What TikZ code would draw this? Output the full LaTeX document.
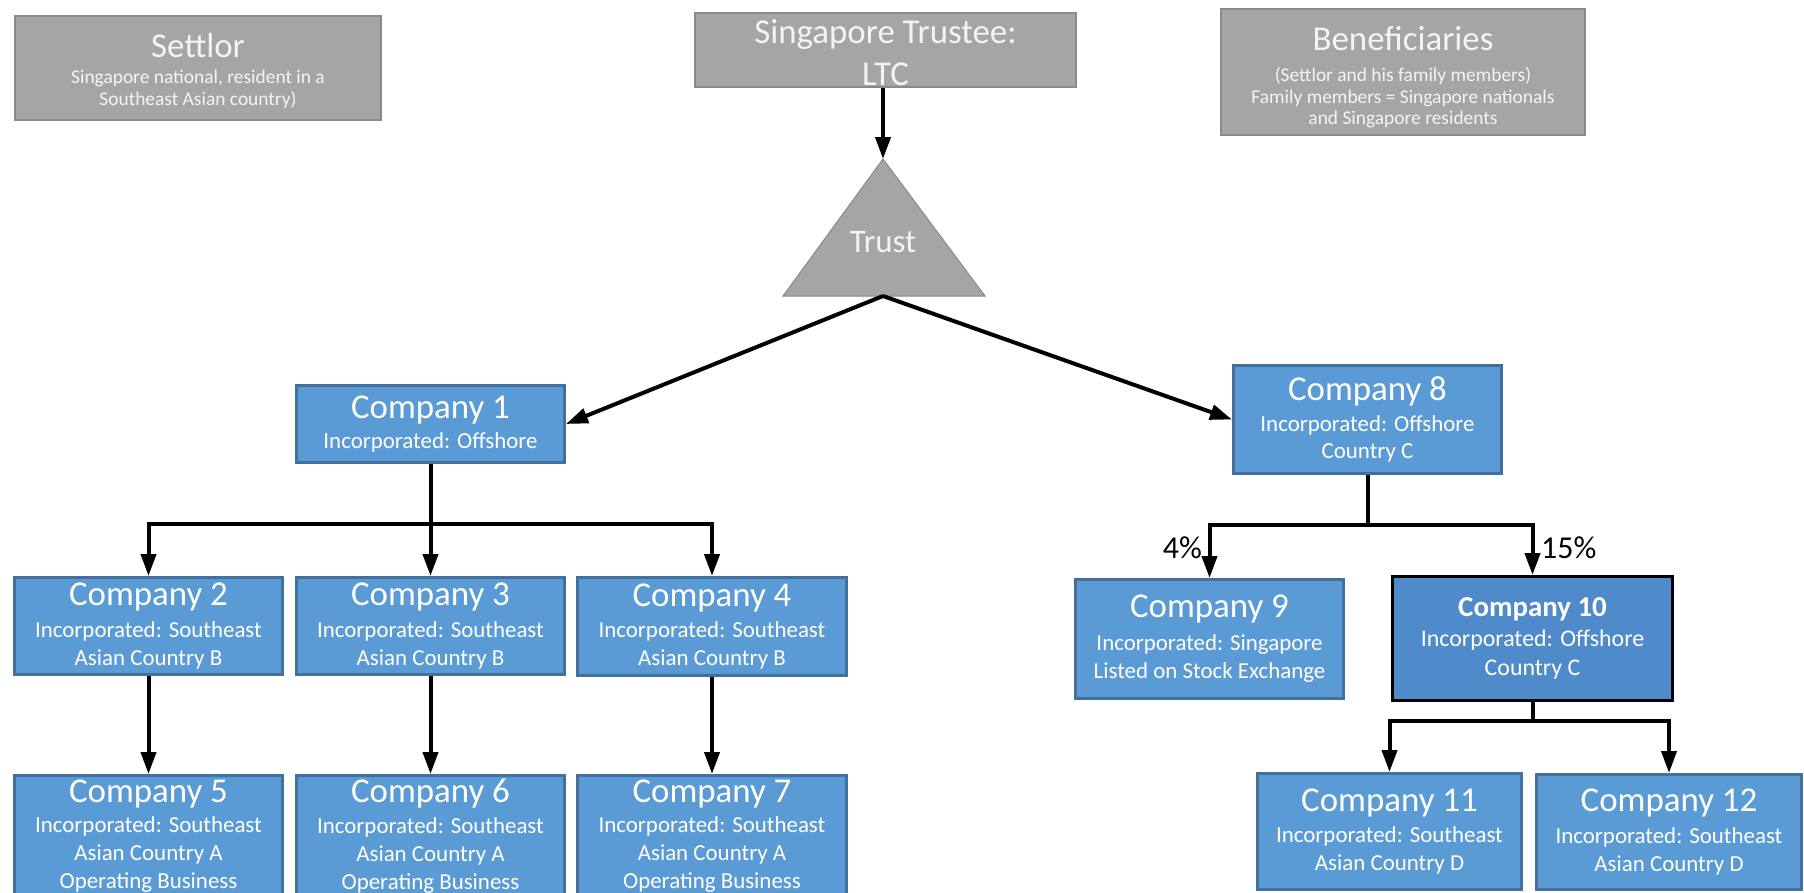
\documentclass[tikz,border=0pt]{standalone}
\usepackage{fontspec}
\setmainfont{Carlito}
\usetikzlibrary{arrows.meta}

\definecolor{boxgray}{HTML}{A5A5A5}
\definecolor{boxgrayline}{HTML}{8A8A8A}
\definecolor{graytext}{HTML}{F4F4F4}
\definecolor{coblue}{HTML}{5B9BD5}
\definecolor{cobluel}{HTML}{41719C}
\definecolor{coblued}{HTML}{4F8ACB}

\newcommand\gtitle{\fontsize{35}{42}\selectfont}
\newcommand\ctitle{\fontsize{35}{40}\selectfont}
\newcommand\cbold{\fontsize{29}{35}\selectfont\bfseries}

\tikzset{
  infobox/.style={draw=boxgrayline, line width=1.5bp, fill=boxgray, text=graytext,
    align=center, inner sep=0pt, font=\fontsize{19.5}{21.5}\selectfont},
  company/.style={draw=cobluel, line width=3bp, fill=coblue, text=white,
    align=center, inner sep=0pt, minimum width=268bp, font=\fontsize{23}{28}\selectfont},
  keycompany/.style={company, draw=black, fill=coblued, minimum width=280bp,
    font=\fontsize{24}{30}\selectfont},
  link/.style={line width=4bp, -{Triangle[length=22bp,width=15bp]}},
  bus/.style={line width=4bp},
  pct/.style={font=\fontsize{32}{36}\selectfont, inner sep=0pt}
}

\begin{document}
\begin{tikzpicture}[x=1bp,y=-1bp]
\useasboundingbox (0,0) rectangle (1804,893);
\clip (0,0) rectangle (1804,893);

% parties of the trust
\node[infobox, minimum width=366bp, minimum height=104bp] (settlor) at (198,68)
  {{\gtitle\rule{0pt}{30bp}Settlor}\\[5bp]Singapore national, resident in a\\Southeast Asian country)};
\node[infobox, minimum width=381bp, minimum height=74bp, font=\gtitle] (trustee) at (885.5,50)
  {\rule{0pt}{30bp}Singapore Trustee:\\LTC};
\node[infobox, minimum width=364bp, minimum height=126bp] (benef) at (1403,72)
  {{\gtitle\rule{0pt}{34bp}Beneficiaries}\\[10bp](Settlor and his family members)\\Family members = Singapore nationals\\and Singapore residents};

% the trust itself
\coordinate (apex) at (883,159);
\coordinate (baseL) at (783,296);
\coordinate (baseR) at (985,296);
\coordinate (trustbase) at (883,296);
\filldraw[fill=boxgray, draw=boxgrayline, line width=1bp] (apex) -- (baseR) -- (baseL) -- cycle;
\node[font=\fontsize{33}{40}\selectfont, text=graytext, inner sep=0pt] (trust) at (883,242) {Trust};

% left branch
\node[company, minimum height=77bp] (c1) at (430.5,424)
  {{\ctitle Company 1}\\[3bp]Incorporated: Offshore};
\node[company, minimum height=97bp] (c2) at (148.5,626)
  {{\ctitle Company 2}\\[4bp]Incorporated: Southeast\\Asian Country B};
\node[company, minimum height=97bp] (c3) at (430.5,626)
  {{\ctitle Company 3}\\[4bp]Incorporated: Southeast\\Asian Country B};
\node[company, minimum height=98bp, minimum width=269bp] (c4) at (712,626.5)
  {{\ctitle Company 4}\\[4bp]Incorporated: Southeast\\Asian Country B};
\node[company, minimum height=121bp] (c5) at (148.5,836)
  {{\ctitle Company 5}\\[3bp]Incorporated: Southeast\\Asian Country A\\Operating Business};
\node[company, minimum height=121bp] (c6) at (430.5,836)
  {{\ctitle Company 6}\\[3bp]Incorporated: Southeast\\Asian Country A\\Operating Business};
\node[company, minimum height=121bp, minimum width=269bp] (c7) at (712,836)
  {{\ctitle Company 7}\\[3bp]Incorporated: Southeast\\Asian Country A\\Operating Business};

% right branch
\node[company, minimum height=108bp] (c8) at (1367.5,419.5)
  {{\ctitle Company 8}\\[3bp]Incorporated: Offshore\\Country C};
\node[company, minimum height=119bp] (c9) at (1209.5,639)
  {{\ctitle Company 9}\\[5bp]Incorporated: Singapore\\Listed on Stock Exchange};
\node[keycompany, minimum height=124bp] (c10) at (1532.5,638.5)
  {{\cbold Company 10}\\Incorporated: Offshore\\Country C};
\node[company, minimum height=116bp, minimum width=264bp] (c11) at (1389.5,831.5)
  {{\ctitle Company 11}\\[4bp]Incorporated: Southeast\\Asian Country D};
\node[company, minimum height=115bp, minimum width=265bp] (c12) at (1669,832)
  {{\ctitle Company 12}\\[4bp]Incorporated: Southeast\\Asian Country D};

% ownership links
\draw[link] (apex |- trustee.south) -- (apex);
\draw[link] (trustbase) -- (c1.east);
\draw[link] (trustbase) -- (c8.west);

\coordinate (bus1) at (430.5,524);
\draw[link] (c1.south) -- (c3.north);
\draw[link] (bus1) -| (c2.north);
\draw[link] (bus1) -| (c4.north);
\draw[link] (c2.south) -- (c5.north);
\draw[link] (c3.south) -- (c6.north);
\draw[link] (c4.south) -- (c7.north);

\coordinate (bus8) at (1367.5,525);
\draw[bus] (c8.south) -- (bus8);
\draw[link] (bus8) -| (c9.north);
\draw[link] (bus8) -| (c10.north);
\node[pct, anchor=east] (p4) at (1202,548) {4\%};
\node[pct, anchor=west] (p15) at (1541,548) {15\%};

\coordinate (bus10) at (1532.5,721);
\draw[bus] (c10.south) -- (bus10);
\draw[link] (bus10) -| (c11.north);
\draw[link] (bus10) -| (c12.north);
\end{tikzpicture}
\end{document}
